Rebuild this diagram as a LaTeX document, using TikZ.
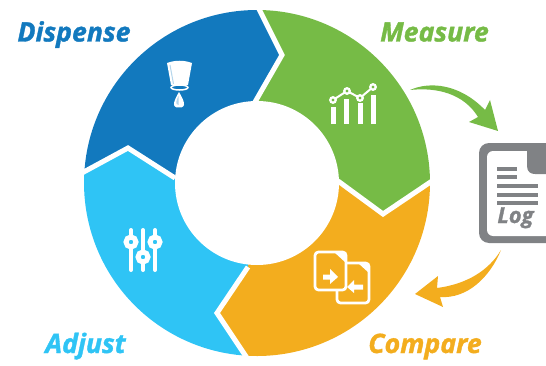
\documentclass[tikz,border=0pt]{standalone}
\usepackage{fontspec}
\setmainfont{Open Sans}
\newfontfamily\stepfont{Open Sans}[BoldItalicFeatures={FakeBold=1.3}]
\usetikzlibrary{calc}
\definecolor{dispblue}{HTML}{1279BE}
\definecolor{adjblue}{HTML}{2FC4F5}
\definecolor{measgreen}{HTML}{76BB46}
\definecolor{compgold}{HTML}{F3AD1E}
\definecolor{loggrey}{HTML}{808285}
\definecolor{cupshade}{HTML}{B5D6EC}
\tikzset{
  steplabel/.style={font=\stepfont\fontsize{15.2}{15.2}\selectfont\bfseries\itshape,inner sep=0pt,anchor=base},
  seam/.style={white,line width=0.1cm,miter limit=10},
  iconline/.style={white,line width=0.08cm},
  logline/.style={fill=loggrey,draw=none},
  docpage/.style={white,line width=0.055cm,rounded corners=0.07cm,fill=compgold}
}
\begin{document}
\begin{tikzpicture}
  \useasboundingbox (0,0) rectangle (10.92,7.3);
  \coordinate (hub) at (5.14,3.64);
  \coordinate (topin) at (5.10,5.26);
  \coordinate (toptip) at (5.64,6.20);
  \coordinate (topout) at (5.14,7.2);
  \coordinate (rightin) at (6.76,3.68);
  \coordinate (righttip) at (7.66,3.02);
  \coordinate (rightout) at (8.70,3.72);
  \coordinate (botin) at (4.96,1.96);
  \coordinate (bottip) at (4.34,1.04);
  \coordinate (botout) at (4.98,0.08);
  \coordinate (leftin) at (3.50,3.74);
  \coordinate (lefttip) at (2.56,4.34);
  \coordinate (leftout) at (1.60,3.82);
  % the four parts of the ring
  \fill[dispblue] (hub) -- (leftin) -- (lefttip) -- ($(hub)+(176.4:3.46)$) arc[start angle=176.4,end angle=89.7,radius=3.46] -- (toptip) -- (topin) -- cycle;
  \fill[measgreen] (hub) -- (topin) -- (toptip) -- ($(hub)+(89.7:3.46)$) arc[start angle=89.7,end angle=0.3,radius=3.46] -- (righttip) -- (rightin) -- cycle;
  \fill[compgold] (hub) -- (rightin) -- (righttip) -- ($(hub)+(0.3:3.46)$) arc[start angle=0.3,end angle=-93,radius=3.46] -- (bottip) -- (botin) -- cycle;
  \fill[adjblue] (hub) -- (botin) -- (bottip) -- ($(hub)+(-93:3.46)$) arc[start angle=-93,end angle=-183.6,radius=3.46] -- (lefttip) -- (leftin) -- cycle;
  \draw[seam] (topin) -- (toptip) -- (topout);
  \draw[seam] (rightin) -- (righttip) -- (rightout);
  \draw[seam] (botin) -- (bottip) -- (botout);
  \draw[seam] (leftin) -- (lefttip) -- (leftout);
  \fill[white] (hub) circle (1.64);
  % labels
  \node[steplabel,text=dispblue] (dispense) at (1.48,6.47) {Dispense};
  \node[steplabel,text=measgreen] (measure) at (8.69,6.47) {Measure};
  \node[steplabel,text=compgold] (compare) at (8.50,0.24) {Compare};
  \node[steplabel,text=adjblue] (adjust) at (1.71,0.24) {Adjust};
  % cup
  \fill[white] (3.34,6.04) .. controls (3.50,6.10) and (3.68,6.10) .. (3.84,6.04) -- (3.76,5.60) -- (3.42,5.60) -- cycle;
  \draw[cupshade,line width=0.02cm] (3.40,6.00) -- (3.47,5.62);
  \draw[white,line width=0.03cm] (3.59,5.55) ellipse (0.17 and 0.05);
  \fill[white] (3.58,5.46) .. controls (3.50,5.32) and (3.40,5.14) .. (3.58,5.15) .. controls (3.76,5.14) and (3.66,5.32) .. (3.58,5.46) -- cycle;
  \fill[cupshade] (3.57,5.38) .. controls (3.52,5.28) and (3.50,5.21) .. (3.57,5.20) -- cycle;
  % chart
  \foreach \px/\py in {6.67/5.16,6.93/5.32,7.20/5.24,7.47/5.40} {
    \fill[white] (\px-0.05,4.82) rectangle (\px+0.05,\py);
  }
  \draw[white,line width=0.04cm] (6.66,5.30) -- (6.94,5.48) -- (7.20,5.34) -- (7.46,5.56);
  \foreach \px/\py in {6.66/5.30,6.94/5.48,7.20/5.34,7.46/5.56} {
    \draw[white,line width=0.045cm,fill=measgreen] (\px,\py) circle (0.055);
  }
  % sliders
  \foreach \px in {2.62,2.86,3.10} {
    \draw[iconline,line cap=round] (\px,2.70) -- (\px,1.90);
  }
  \foreach \px/\py in {2.62/2.46,2.86/2.16,3.10/2.46} {
    \draw[white,line width=0.1cm,fill=adjblue] (\px,\py) circle (0.10);
  }
  % documents
  \draw[docpage] (6.74,1.24) rectangle (7.38,2.04);
  \fill[white] (7.16,2.04) -- (7.38,2.04) -- (7.38,1.84) -- cycle;
  \draw[docpage] (6.30,1.50) rectangle (6.92,2.26);
  \fill[white] (6.68,2.26) -- (6.92,2.26) -- (6.92,2.04) -- cycle;
  \fill[white] (6.46,1.71) -- (6.60,1.71) -- (6.60,1.62) -- (6.76,1.76) -- (6.60,1.92) -- (6.60,1.81) -- (6.46,1.81) -- cycle;
  \fill[white] (7.26,1.51) -- (7.08,1.51) -- (7.08,1.44) -- (6.94,1.56) -- (7.08,1.70) -- (7.08,1.61) -- (7.26,1.61) -- cycle;
  % log file
  \fill[loggrey,rounded corners=0.2cm] (9.58,2.44) rectangle (11.2,4.44);
  \fill[white,rounded corners=0.12cm] (9.74,2.58) rectangle (11.2,4.28);
  \fill[loggrey] (10.54,4.30) -- (10.54,3.98) .. controls (10.54,3.86) and (10.62,3.82) .. (10.70,3.82) -- (10.92,3.82) -- (10.92,4.30) -- cycle;
  \fill[logline] (9.94,3.96) rectangle (10.34,3.88);
  \fill[logline] (9.94,3.80) rectangle (10.34,3.72);
  \fill[logline] (9.94,3.62) rectangle (10.76,3.54);
  \fill[logline] (9.94,3.44) rectangle (10.76,3.36);
  \fill[logline] (9.94,3.28) rectangle (10.76,3.20);
  \node[steplabel,text=loggrey,font=\stepfont\fontsize{12.5}{12.5}\selectfont\bfseries\itshape] (log) at (10.31,2.84) {Log};
  % arrows
  \fill[measgreen] (8.20,5.50) .. controls (8.60,5.68) and (9.20,5.62) .. (9.70,5.10) -- (9.80,5.30) -- (9.96,4.68) -- (9.38,4.86) -- (9.56,4.96) .. controls (9.28,5.42) and (8.75,5.56) .. cycle;
  \fill[compgold] (10.02,2.30) .. controls (9.78,1.90) and (9.35,1.62) .. (8.74,1.54) -- (8.76,1.78) -- (8.30,1.42) -- (8.86,1.16) -- (8.80,1.36) .. controls (9.35,1.32) and (9.80,1.76) .. cycle;
\end{tikzpicture}
\end{document}
